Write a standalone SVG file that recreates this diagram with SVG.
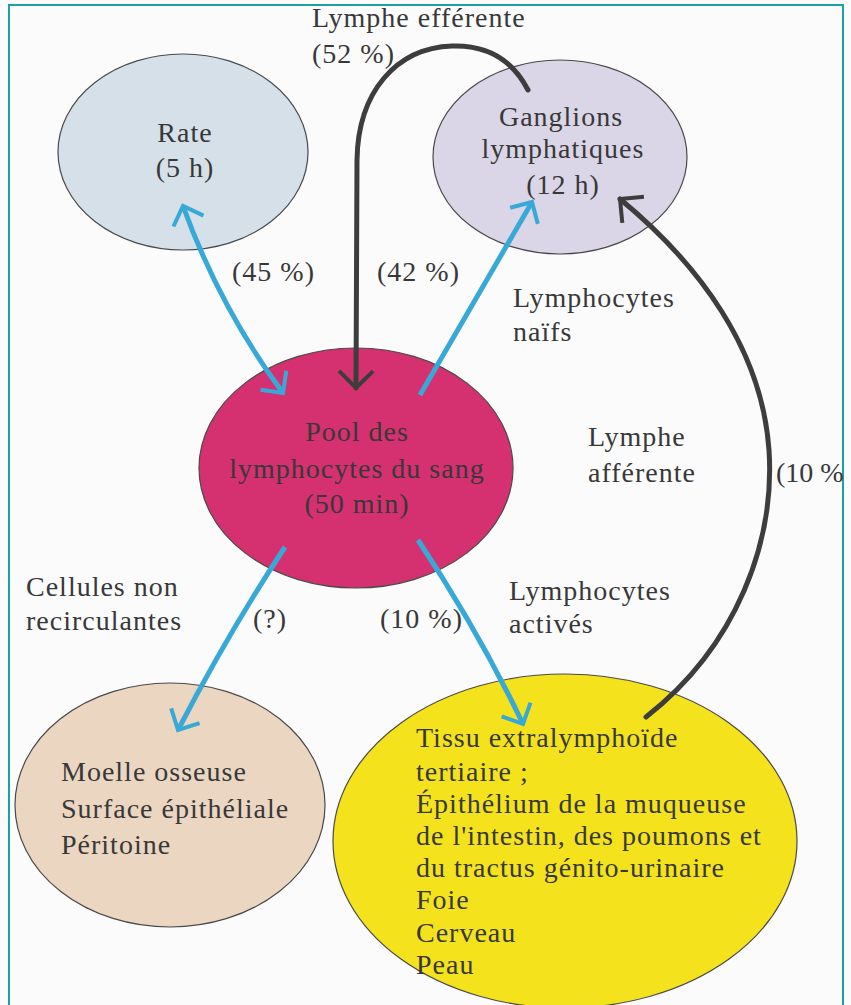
<svg xmlns="http://www.w3.org/2000/svg" width="851" height="1005" viewBox="0 0 851 1005">
  <defs>
    <style>
      .t { font-family: "Liberation Serif", "DejaVu Serif", serif; font-size: 28px; fill: #383838; letter-spacing: 1px; }
      .c { text-anchor: middle; }
      .node { stroke: #4a4a4a; stroke-width: 1.2; }
      .blue { fill: none; stroke: #38a9d7; stroke-width: 5; stroke-linecap: butt; }
      .dark { fill: none; stroke: #3d3d3d; stroke-width: 5; stroke-linecap: round; }
    </style>
    <marker id="ab" viewBox="-22 -20 26 40" refX="0" refY="0" markerWidth="26" markerHeight="40" markerUnits="userSpaceOnUse" orient="auto-start-reverse">
      <path d="M-16,-16 L0,0 L-16,16" fill="none" stroke="#38a9d7" stroke-width="4"/>
    </marker>
    <marker id="ak" viewBox="-22 -20 26 40" refX="0" refY="0" markerWidth="26" markerHeight="40" markerUnits="userSpaceOnUse" orient="auto">
      <path d="M-17,-17 L0,0 L-17,17" fill="none" stroke="#3d3d3d" stroke-width="4"/>
    </marker>
  </defs>

  <rect x="0" y="0" width="851" height="1005" fill="#fbfbfb"/>
  <path d="M9,1005 L9,5 L843,5 L843,1005" fill="none" stroke="#1c9fa6" stroke-width="2"/>

  <g id="rate">
    <ellipse class="node" cx="183" cy="152" rx="125" ry="98" fill="#d6e0e9"/>
    <text class="t c" x="185" y="142">Rate</text>
    <text class="t c" x="185" y="177">(5 h)</text>
  </g>

  <g id="ganglions">
    <ellipse class="node" cx="560" cy="157" rx="127" ry="97" fill="#dad5e7"/>
    <text class="t c" x="561" y="126">Ganglions</text>
    <text class="t c" x="563" y="158">lymphatiques</text>
    <text class="t c" x="563" y="194">(12 h)</text>
  </g>

  <g id="pool">
    <ellipse class="node" cx="356" cy="468" rx="157" ry="120" fill="#d5306f"/>
    <text class="t c" x="357" y="441">Pool des</text>
    <text class="t c" x="357" y="478">lymphocytes du sang</text>
    <text class="t c" x="357" y="513">(50 min)</text>
  </g>

  <g id="moelle">
    <ellipse class="node" cx="170" cy="805" rx="155" ry="122" fill="#ebd6c1"/>
    <text class="t" x="61" y="781">Moelle osseuse</text>
    <text class="t" x="61" y="818">Surface épithéliale</text>
    <text class="t" x="61" y="854">Péritoine</text>
  </g>

  <g id="tissu">
    <ellipse class="node" cx="565" cy="841" rx="232" ry="167" fill="#f4e31c"/>
    <text class="t" x="416" y="747">Tissu extralymphoïde</text>
    <text class="t" x="416" y="781">tertiaire ;</text>
    <text class="t" x="416" y="813">Épithélium de la muqueuse</text>
    <text class="t" x="416" y="845">de l'intestin, des poumons et</text>
    <text class="t" x="416" y="877">du tractus génito-urinaire</text>
    <text class="t" x="416" y="909">Foie</text>
    <text class="t" x="416" y="942">Cerveau</text>
    <text class="t" x="416" y="974">Peau</text>
  </g>

  <g id="connectors">
    <path class="blue" d="M183,206 Q220,308 283,393" marker-start="url(#ab)" marker-end="url(#ab)"/>
    <path class="blue" d="M420,395 L532,202" marker-end="url(#ab)"/>
    <path class="blue" d="M285,547 Q230,630 178,730" marker-end="url(#ab)"/>
    <path class="blue" d="M418,540 Q478,630 523,724" marker-end="url(#ab)"/>
    <path class="dark" d="M528,90 C510,55 482,45 452,46 C396,48 358,92 357,160 L356,388" marker-end="url(#ak)"/>
    <path class="dark" d="M646,717 C738,645 775,540 769,450 C762,350 700,265 620,199" marker-end="url(#ak)"/>
  </g>

  <g id="labels">
    <text class="t" x="312" y="27">Lymphe efférente</text>
    <text class="t" x="312" y="63">(52 %)</text>
    <text class="t" x="232" y="281">(45 %)</text>
    <text class="t" x="377" y="281">(42 %)</text>
    <text class="t" x="513" y="307">Lymphocytes</text>
    <text class="t" x="513" y="341">naïfs</text>
    <text class="t" x="588" y="446">Lymphe</text>
    <text class="t" x="588" y="482">afférente</text>
    <text class="t" x="776" y="482" style="letter-spacing:0">(10 %</text>
    <text class="t" x="26" y="596">Cellules non</text>
    <text class="t" x="26" y="630">recirculantes</text>
    <text class="t" x="253" y="628">(?)</text>
    <text class="t" x="380" y="628">(10 %)</text>
    <text class="t" x="509" y="600">Lymphocytes</text>
    <text class="t" x="509" y="633">activés</text>
  </g>
</svg>
